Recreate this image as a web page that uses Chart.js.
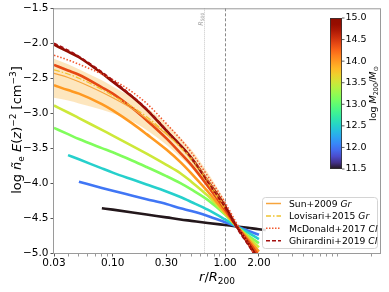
<!DOCTYPE html>
<html>
<head>
<meta charset="utf-8">
<script src="https://cdn.jsdelivr.net/npm/chart.js@4/dist/chart.umd.min.js"></script>
<style>body{margin:0;background:#fff}canvas{display:block}</style>
</head>
<body>
<canvas id="myChart" width="389" height="292"></canvas>
<script>
// radius grid r/R200 (shared by all curves)
var radius = [0.03, 0.04, 0.05, 0.08, 0.1, 0.15, 0.2, 0.3, 0.4, 0.5, 0.7, 1.0, 1.27, 1.6, 2.0, 2.3];

// model profiles, one per halo mass (log M200/Msun)
var modelMass = [15.0, 14.4, 14.0, 13.5, 13.15, 12.5, 12.0, 11.5];
var m150  = [-2.02,-2.12,-2.20,-2.43,-2.55,-2.77,-2.95,-3.25,-3.46,-3.64,-3.97,-4.33,-4.62,-4.86,-5.10,null];
var m144  = [-2.31,-2.39,-2.45,-2.63,-2.72,-2.93,-3.10,-3.36,-3.57,-3.74,-4.04,-4.38,-4.62,-4.83,-5.04,null];
var m140  = [-2.60,-2.67,-2.72,-2.87,-2.96,-3.15,-3.30,-3.52,-3.70,-3.86,-4.12,-4.42,-4.62,-4.80,-4.98,null];
var m135  = [-2.89,-2.99,-3.07,-3.24,-3.32,-3.47,-3.58,-3.74,-3.86,-3.98,-4.18,-4.44,-4.62,-4.77,-4.92,null];
var m131  = [-3.21,-3.30,-3.37,-3.50,-3.56,-3.68,-3.77,-3.90,-4.00,-4.09,-4.24,-4.45,-4.62,-4.75,-4.86,null];
var m125  = [null,-3.60,-3.66,-3.79,-3.85,-3.95,-4.02,-4.12,-4.20,-4.27,-4.38,-4.52,-4.62,-4.71,-4.80,null];
var m120  = [null,null,-3.98,-4.07,-4.11,-4.18,-4.23,-4.30,-4.36,-4.40,-4.47,-4.56,-4.62,-4.68,-4.74,null];
var m115  = [null,null,null,-4.36,-4.38,-4.42,-4.45,-4.49,-4.52,-4.54,-4.57,-4.60,-4.62,-4.64,-4.66,-4.67];
var models = [m150, m144, m140, m135, m131, m125, m120, m115];

// observational profiles
var sunMid   = [-2.43,-2.49,-2.55,-2.70,-2.78,-2.94,-3.08,-3.30,-3.48,-3.64,-3.96,-4.34,null,null,null,null];
var sunHigh  = [-2.22,-2.30,-2.37,-2.53,-2.62,-2.78,-2.92,-3.15,-3.35,-3.52,-3.85,-4.25,null,null,null,null];
var sunLow   = [-2.78,-2.82,-2.86,-2.95,-3.00,-3.12,-3.24,-3.45,-3.63,-3.78,-4.07,-4.42,null,null,null,null];
var lovisari = [-2.38,-2.44,-2.50,-2.66,-2.75,-2.91,-3.05,-3.29,-3.49,-3.67,-4.00,-4.38,null,null,null,null];
var mcdonald = [-2.17,-2.24,-2.30,-2.44,-2.52,-2.70,-2.86,-3.15,-3.37,-3.56,-3.90,-4.28,-4.58,-4.86,-5.15,null];
var ghirardini = [-2.00,-2.10,-2.19,-2.41,-2.53,-2.76,-2.94,-3.24,-3.46,-3.64,-3.98,-4.35,-4.64,-4.88,-5.12,null];

var xTicks = [0.03,0.04,0.05,0.06,0.07,0.08,0.09,0.1,0.2,0.3,0.4,0.5,0.6,0.7,0.8,0.9,1,2,3,4,5,6,7,8,9,10,20];
var xTickLabels = [0.03, 0.1, 0.3, 1, 2];
var cbTicks = [11.5, 12.0, 12.5, 13.0, 13.5, 14.0, 14.5, 15.0];
var r500 = 0.65;

var FONT = '"DejaVu Sans"';

function turbo(t) {
  t = Math.max(0, Math.min(1, t));
  var r = 0.13572138 + t*(4.61539260 + t*(-42.66032258 + t*(132.13108234 + t*(-152.94239396 + t*59.28637943))));
  var g = 0.09140261 + t*(2.19418839 + t*(4.84296658 + t*(-14.18503333 + t*(4.27729857 + t*2.82956604))));
  var b = 0.10667330 + t*(12.64194608 + t*(-60.58204836 + t*(110.36276771 + t*(-89.90310912 + t*27.34824973))));
  function c(v) { return Math.round(Math.max(0, Math.min(1, v)) * 255); }
  return 'rgb(' + c(r) + ',' + c(g) + ',' + c(b) + ')';
}
function massColor(m) { return turbo((m - 11.5) / 3.5); }

function pts(vals) {
  return radius.map(function (r, i) { return {x: r, y: vals[i]}; });
}

function drawRich(ctx, segs, x, y, align) {
  var w = 0;
  segs.forEach(function (s) {
    ctx.font = (s[2] ? 'italic ' : '') + s[1] + 'px ' + FONT;
    w += ctx.measureText(s[0]).width;
  });
  var cx = align === 'center' ? x - w / 2 : x;
  segs.forEach(function (s) {
    ctx.font = (s[2] ? 'italic ' : '') + s[1] + 'px ' + FONT;
    ctx.fillText(s[0], cx, y + (s[3] || 0));
    cx += ctx.measureText(s[0]).width;
  });
}

var datasets = [
  {data: pts(ghirardini), borderColor: '#a31010', borderDash: [4, 2.5], borderWidth: 1.8},
  {data: pts(mcdonald), borderColor: '#f25a30', borderDash: [1.5, 1.8], borderWidth: 1.6},
  {data: pts(lovisari), borderColor: '#f0c330', borderDash: [6, 2, 1.5, 2], borderWidth: 1.2},
  {data: pts(sunMid), borderColor: '#f7a43c', borderWidth: 1.2}
];
models.forEach(function (vals, i) {
  datasets.push({data: pts(vals), borderColor: massColor(modelMass[i]), borderWidth: 2.6});
});
datasets.push({data: pts(sunHigh), borderWidth: 0, borderColor: 'rgba(0,0,0,0)', fill: '+1', backgroundColor: 'rgba(250,200,110,0.45)'});
datasets.push({data: pts(sunLow), borderWidth: 0, borderColor: 'rgba(0,0,0,0)', fill: false});

var legendItems = [
  {name: 'Sun+2009 ', tag: 'Gr', color: '#f7a43c', dash: [], width: 1.5},
  {name: 'Lovisari+2015 ', tag: 'Gr', color: '#f0c330', dash: [5, 2, 1.5, 2], width: 1.5},
  {name: 'McDonald+2017 ', tag: 'Cl', color: '#f25a30', dash: [1.5, 1.5], width: 1.5},
  {name: 'Ghirardini+2019 ', tag: 'Cl', color: '#a31010', dash: [4, 2], width: 1.5}
];

var extras = {
  id: 'extras',
  beforeDatasetsDraw: function (chart) {
    var ctx = chart.ctx, a = chart.chartArea, xs = chart.scales.x;
    ctx.save();
    ctx.lineWidth = 1;
    var x5 = Math.round(xs.getPixelForValue(r500)) + 0.5;
    ctx.strokeStyle = '#c8c8c8';
    ctx.setLineDash([1, 1]);
    ctx.beginPath(); ctx.moveTo(x5, a.top); ctx.lineTo(x5, a.bottom); ctx.stroke();
    var x1 = Math.round(xs.getPixelForValue(1)) + 0.5;
    ctx.strokeStyle = '#8a8a8a';
    ctx.setLineDash([3, 2]);
    ctx.beginPath(); ctx.moveTo(x1, a.top); ctx.lineTo(x1, a.bottom); ctx.stroke();
    ctx.setLineDash([]);
    // R500 label
    ctx.fillStyle = '#a0a0a0';
    ctx.translate(x5 - 2, a.top + 11);
    ctx.rotate(-Math.PI / 2);
    drawRich(ctx, [['R', 6.5, true], ['500', 4.5, false, 1.5]], 0, 0, 'center');
    ctx.restore();
  },
  afterDraw: function (chart) {
    var ctx = chart.ctx, a = chart.chartArea;
    ctx.save();
    // frame
    ctx.strokeStyle = '#9a9a9a';
    ctx.lineWidth = 1;
    ctx.strokeRect(a.left - 0.5, a.top + 0.5, a.right - a.left, a.bottom - a.top);

    // axis titles
    ctx.fillStyle = '#000';
    ctx.textBaseline = 'alphabetic';
    drawRich(ctx, [['r', 13, true], ['/', 13], ['R', 13, true], ['200', 9, false, 3]], 217, 281, 'center');
    ctx.save();
    ctx.translate(15, 130);
    ctx.rotate(-Math.PI / 2);
    drawRich(ctx, [['log ', 13], ['ñ', 13, true], ['e', 9, false, 3], [' ', 13], ['E', 13, true], ['(', 13], ['z', 13, true], [')', 13],
      ['−2', 9, false, -5], [' [cm', 13], ['−3', 9, false, -5], [']', 13]], 0, 6, 'center');
    ctx.restore();

    // colorbar
    var cbL = 330, cbR = 342, cbT = 18, cbB = 169;
    var grad = ctx.createLinearGradient(0, cbB, 0, cbT);
    for (var i = 0; i <= 24; i++) grad.addColorStop(i / 24, turbo(i / 24));
    ctx.fillStyle = grad;
    ctx.fillRect(cbL, cbT, cbR - cbL, cbB - cbT);
    ctx.strokeStyle = '#333';
    ctx.lineWidth = 0.8;
    ctx.strokeRect(cbL + 0.5, cbT + 0.5, cbR - cbL - 1, cbB - cbT - 1);
    ctx.fillStyle = '#000';
    ctx.font = '9.5px ' + FONT;
    ctx.textBaseline = 'middle';
    ctx.textAlign = 'left';
    cbTicks.forEach(function (v) {
      var y = cbB - (v - 11.5) / 3.5 * (cbB - cbT);
      ctx.beginPath(); ctx.moveTo(cbR, y); ctx.lineTo(cbR + 2.5, y); ctx.stroke();
      ctx.fillText(v.toFixed(1), cbR + 3.5, y);
    });
    ctx.textBaseline = 'alphabetic';
    ctx.save();
    ctx.translate(376, (cbT + cbB) / 2);
    ctx.rotate(-Math.PI / 2);
    drawRich(ctx, [['log ', 9.5], ['M', 9.5, true], ['200', 6.5, false, 2], ['/', 9.5], ['M', 9.5, true], ['⊙', 6.5, false, 2]], 0, 0, 'center');
    ctx.restore();

    // legend
    var lx = 262, ly = 197, lw = 115, lh = 51;
    ctx.fillStyle = 'rgba(255,255,255,0.85)';
    ctx.strokeStyle = '#d4d4d4';
    ctx.lineWidth = 1;
    ctx.beginPath();
    ctx.roundRect(lx + 0.5, ly + 0.5, lw, lh, 3);
    ctx.fill(); ctx.stroke();
    legendItems.forEach(function (it, k) {
      var y = ly + 6.5 + k * 12.4;
      ctx.strokeStyle = it.color;
      ctx.lineWidth = it.width;
      ctx.setLineDash(it.dash);
      ctx.beginPath(); ctx.moveTo(lx + 4, y); ctx.lineTo(lx + 19, y); ctx.stroke();
      ctx.setLineDash([]);
      ctx.fillStyle = '#000';
      drawRich(ctx, [[it.name, 9.2], [it.tag, 9.2, true]], lx + 27, y + 3.5, 'left');
    });
    ctx.restore();
  }
};

var ctx = document.getElementById('myChart');
var myChart = new Chart(ctx, {
  type: 'line',
  data: {datasets: datasets},
  options: {
    responsive: false,
    animation: false,
    devicePixelRatio: 1,
    layout: {padding: {top: 6, right: 8, left: 0, bottom: 0}},
    elements: {
      point: {radius: 0},
      line: {cubicInterpolationMode: 'monotone', borderCapStyle: 'butt'}
    },
    plugins: {legend: {display: false}, tooltip: {enabled: false}},
    scales: {
      x: {
        type: 'logarithmic',
        min: 0.03,
        max: 24.4,
        afterBuildTicks: function (scale) {
          scale.ticks = xTicks.map(function (v) { return {value: v}; });
        },
        afterFit: function (scale) { scale.height = 39; },
        ticks: {
          autoSkip: false,
          maxRotation: 0,
          padding: 0,
          color: '#000',
          font: {family: 'DejaVu Sans', size: 10.5},
          callback: function (v) {
            return xTickLabels.indexOf(v) >= 0 ? v.toFixed(2) : '';
          }
        },
        grid: {
          drawOnChartArea: false,
          tickLength: 3.5,
          tickColor: function (c) {
            return xTickLabels.indexOf(c.tick && c.tick.value) >= 0 ? '#555' : '#999';
          }
        },
        border: {display: false}
      },
      y: {
        min: -5,
        max: -1.5,
        afterFit: function (scale) { scale.width = 54; },
        ticks: {
          stepSize: 0.5,
          padding: 2,
          color: '#000',
          font: {family: 'DejaVu Sans', size: 10.5},
          callback: function (v) { return (v < 0 ? '−' : '') + Math.abs(v).toFixed(1); }
        },
        grid: {drawOnChartArea: false, tickLength: 3.5, tickColor: '#555'},
        border: {display: false}
      }
    }
  },
  plugins: [extras]
});
</script>
</body>
</html>
